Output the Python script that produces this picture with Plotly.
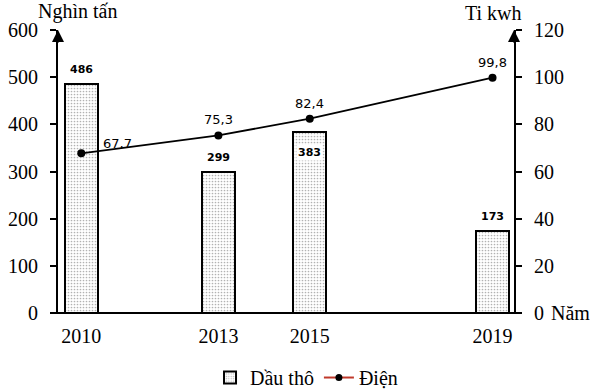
import plotly.graph_objects as go

years = [2010, 2013, 2015, 2019]
crude_oil = [486, 299, 383, 173]          # Nghìn tấn
electricity = [67.7, 75.3, 82.4, 99.8]    # Ti kwh
elec_labels = ["67,7", "75,3", "82,4", "99,8"]
left_ticks = [0, 100, 200, 300, 400, 500, 600]
right_ticks = [0, 20, 40, 60, 80, 100, 120]

SERIF = "Liberation Serif, Times New Roman, serif"
SANS = "DejaVu Sans, Verdana, sans-serif"
FS = 20

fig = go.Figure()
fig.add_trace(go.Bar(
    x=years, y=crude_oil, name="Dầu thô", width=0.72,
    marker=dict(color="white", line=dict(color="black", width=2),
                pattern=dict(shape=".", size=3, solidity=0.25, fgcolor="#666", bgcolor="white")),
    yaxis="y",
))
fig.add_trace(go.Scatter(
    x=years, y=electricity, name="Điện", mode="lines+markers",
    line=dict(color="black", width=1.8), marker=dict(color="black", size=8),
    yaxis="y2", showlegend=False,
))
fig.add_trace(go.Scatter(
    x=[None], y=[None], name="Điện", mode="lines+markers",
    line=dict(color="#c0392b", width=2), marker=dict(color="black", size=7),
    yaxis="y2", showlegend=True,
))

annotations = []
for yr, v in zip(years, crude_oil):
    if yr == 2015:
        annotations.append(dict(x=yr, y=v, xref="x", yref="y", text="<b>%d</b>" % v, showarrow=False,
                                yanchor="top", yshift=-12, bgcolor="white",
                                font=dict(family=SANS, size=11, color="black")))
    else:
        annotations.append(dict(x=yr, y=v, xref="x", yref="y", text="<b>%d</b>" % v, showarrow=False,
                                yanchor="bottom", yshift=6,
                                font=dict(family=SANS, size=11, color="black")))
for i, (yr, v, t) in enumerate(zip(years, electricity, elec_labels)):
    if i == 0:
        annotations.append(dict(x=yr, y=v, xref="x", yref="y2", text=t, showarrow=False,
                                xanchor="left", xshift=20, yshift=10,
                                font=dict(family=SANS, size=13, color="black")))
    else:
        annotations.append(dict(x=yr, y=v, xref="x", yref="y2", text=t, showarrow=False,
                                yanchor="bottom", yshift=6,
                                font=dict(family=SANS, size=13, color="black")))

# axis titles
annotations += [
    dict(x=0, y=1.064, xref="paper", yref="paper", text="Nghìn tấn", showarrow=False,
         xanchor="left", xshift=-22, yanchor="middle",
         font=dict(family=SERIF, size=FS, color="black")),
    dict(x=0.954, y=1.06, xref="paper", yref="paper", text="Ti kwh", showarrow=False,
         xanchor="center", yanchor="middle", font=dict(family=SERIF, size=FS, color="black")),
    dict(x=1.0, y=0, xref="paper", yref="paper", text="Năm", showarrow=False, xshift=35,
         xanchor="left", yanchor="middle", font=dict(family=SERIF, size=FS, color="black")),
]
# arrow heads on the vertical axes
for xp in [0, 1]:
    annotations.append(dict(x=xp, y=1.0, xref="paper", yref="paper", ax=0, ay=14,
                            showarrow=True, arrowhead=2, arrowsize=1.2, arrowwidth=2,
                            arrowcolor="black", text=""))

fig.update_layout(
    width=604, height=392,
    margin=dict(l=58, r=90, t=30, b=79, autoexpand=False),
    plot_bgcolor="white", paper_bgcolor="white",
    font=dict(family=SERIF, size=FS, color="black"),
    xaxis=dict(range=[2009.49, 2019.47], tickvals=years, ticktext=[str(y) for y in years],
               showgrid=False, zeroline=False, showline=False, ticks="", automargin=False,
               ticklabelstandoff=9, tickfont=dict(family=SERIF, size=FS)),
    yaxis=dict(range=[0, 600], tickvals=left_ticks, showgrid=False, zeroline=False,
               showline=True, linecolor="black", linewidth=2, ticks="outside", automargin=False,
               ticklen=6, tickwidth=1.5, tickcolor="black", ticklabelstandoff=8,
               tickfont=dict(family=SERIF, size=FS)),
    yaxis2=dict(range=[0, 120], tickvals=right_ticks, overlaying="y", side="right",
                showgrid=False, zeroline=False, showline=True, linecolor="black", automargin=False,
                linewidth=2, ticks="outside", ticklen=6, tickwidth=1.5, tickcolor="black",
                ticklabelstandoff=8, tickfont=dict(family=SERIF, size=FS)),
    legend=dict(orientation="h", x=0.545, y=-0.228, xanchor="center", yanchor="middle",
                font=dict(family=SERIF, size=FS), traceorder="normal", itemwidth=30),
    annotations=annotations,
    shapes=[dict(type="line", xref="paper", yref="paper", x0=-0.013, x1=1.01, y0=0, y1=0,
                 line=dict(color="black", width=2))],
    showlegend=True,
    bargap=0,
)

fig.write_html("out.html", config={"responsive": False, "displayModeBar": False},
               post_script="document.body.style.margin='0';document.body.style.overflow='hidden';")
